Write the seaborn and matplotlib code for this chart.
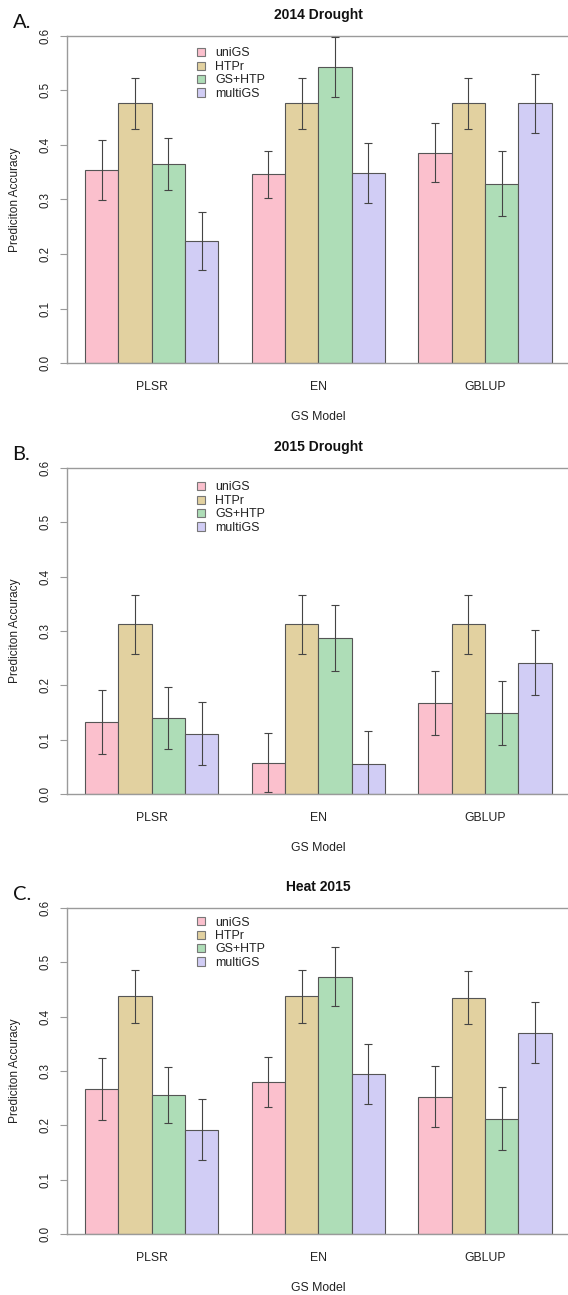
import matplotlib
matplotlib.use("Agg")
import matplotlib.pyplot as plt
import pandas as pd
import seaborn as sns
from matplotlib.patches import Patch

models = ["PLSR", "EN", "GBLUP"]
methods = ["uniGS", "HTPr", "GS+HTP", "multiGS"]
method_colors = ["#FBC0CD", "#E2D1A0", "#AEDDB7", "#D1CDF5"]
yticks = [0.0, 0.1, 0.2, 0.3, 0.4, 0.5, 0.6]

# values per model (PLSR, EN, GBLUP), each in method order
drought14_acc = [0.354, 0.476, 0.365, 0.224,
                 0.346, 0.476, 0.543, 0.348,
                 0.386, 0.476, 0.329, 0.476]
drought14_err = [0.055, 0.047, 0.048, 0.053,
                 0.043, 0.047, 0.055, 0.055,
                 0.054, 0.047, 0.059, 0.054]

drought15_acc = [0.133, 0.312, 0.140, 0.111,
                 0.058, 0.312, 0.287, 0.056,
                 0.168, 0.312, 0.149, 0.242]
drought15_err = [0.059, 0.054, 0.057, 0.058,
                 0.054, 0.054, 0.060, 0.060,
                 0.059, 0.054, 0.059, 0.060]

heat15_acc = [0.267, 0.437, 0.256, 0.192,
              0.279, 0.437, 0.473, 0.295,
              0.253, 0.435, 0.212, 0.370]
heat15_err = [0.057, 0.049, 0.051, 0.056,
              0.046, 0.049, 0.054, 0.055,
              0.056, 0.048, 0.058, 0.056]

W, H = 568, 1295
plt.rcParams["font.family"] = ["Liberation Sans", "DejaVu Sans"]

def fx(px):
    return px / W

def fy(py):
    return 1 - py / H

# letter, title, acc, err, axes top px, axes bottom px, legend top px
panels = [
    ("A.", "2014 Drought", drought14_acc, drought14_err, 35.7, 363.3, 47.5),
    ("B.", "2015 Drought", drought15_acc, drought15_err, 467.7, 794.3, 481.5),
    ("C.", "Heat 2015", heat15_acc, heat15_err, 907.7, 1234.3, 916.5),
]

fig = plt.figure(figsize=(W / 100, H / 100), dpi=100)
axis_gray = "#9a9a9a"
left_px = 66.7

for letter, title, acc, err, top, bottom, leg_top in panels:
    df = pd.DataFrame({
        "model": [m for m in models for _ in methods],
        "method": methods * len(models),
        "acc": acc,
        "err": err,
    })
    ax = fig.add_axes([fx(left_px), fy(bottom), 1 - fx(left_px), (bottom - top) / H])
    sns.barplot(data=df, x="model", y="acc", hue="method", order=models,
                hue_order=methods, palette=method_colors, saturation=1,
                errorbar=None, edgecolor="#555555", linewidth=0.8,
                legend=False, ax=ax)

    for cont, meth in zip(ax.containers, methods):
        sub = df[df["method"] == meth].set_index("model").loc[models]
        xs = [b.get_x() + b.get_width() / 2 for b in cont]
        ys = [b.get_height() for b in cont]
        ax.errorbar(xs, ys, yerr=sub["err"].values, fmt="none",
                    ecolor="#444444", elinewidth=0.8, capsize=3,
                    capthick=0.8, zorder=5)

    ax.set_xlim(-0.51, 2.497)
    ax.set_ylim(0, 0.6)
    ax.set_yticks(yticks)
    ax.set_yticklabels([f"{t:.1f}" for t in yticks])
    ax.set_xlabel("")
    ax.set_ylabel("")
    ax.spines["right"].set_visible(False)
    for s in ["left", "top", "bottom"]:
        ax.spines[s].set_color(axis_gray)
        ax.spines[s].set_linewidth(1.0)
    ax.tick_params(axis="y", direction="out", length=5.3, width=0.8,
                   color=axis_gray, labelsize=8.3, labelrotation=90, pad=6,
                   labelcolor="#222222")
    ax.tick_params(axis="x", length=0, labelsize=8.8, pad=12.5,
                   labelcolor="#222222")
    for lab in ax.get_yticklabels():
        lab.set_verticalalignment("center")

    handles = [Patch(facecolor=c, edgecolor="#777777", linewidth=0.8)
               for c in method_colors]
    ax.legend(handles, methods, loc="upper left",
              bbox_to_anchor=(fx(196.5), fy(leg_top)),
              bbox_transform=fig.transFigure, frameon=False, fontsize=8.9,
              handlelength=0.65, handleheight=0.65, handletextpad=0.85,
              labelspacing=0.12, borderpad=0, borderaxespad=0,
              labelcolor="#222222")

    fig.text(fx(318.3), fy(top - 17), title, ha="center", va="baseline",
             fontsize=10, fontweight="bold", color="#111111")
    fig.text(fx(318.3), fy(bottom + 56.7), "GS Model", ha="center",
             va="baseline", fontsize=8.8, color="#222222")
    fig.text(fx(15), fy((top + bottom) / 2), "Prediciton Accuracy",
             rotation=90, ha="center", va="center", fontsize=8.6,
             color="#222222")
    fig.text(fx(12.5), fy(top - 13.5), letter, ha="left", va="center",
             fontsize=14.5, family=["Lato", "DejaVu Sans"], color="#111111")

fig.savefig("out.png", dpi=100)
